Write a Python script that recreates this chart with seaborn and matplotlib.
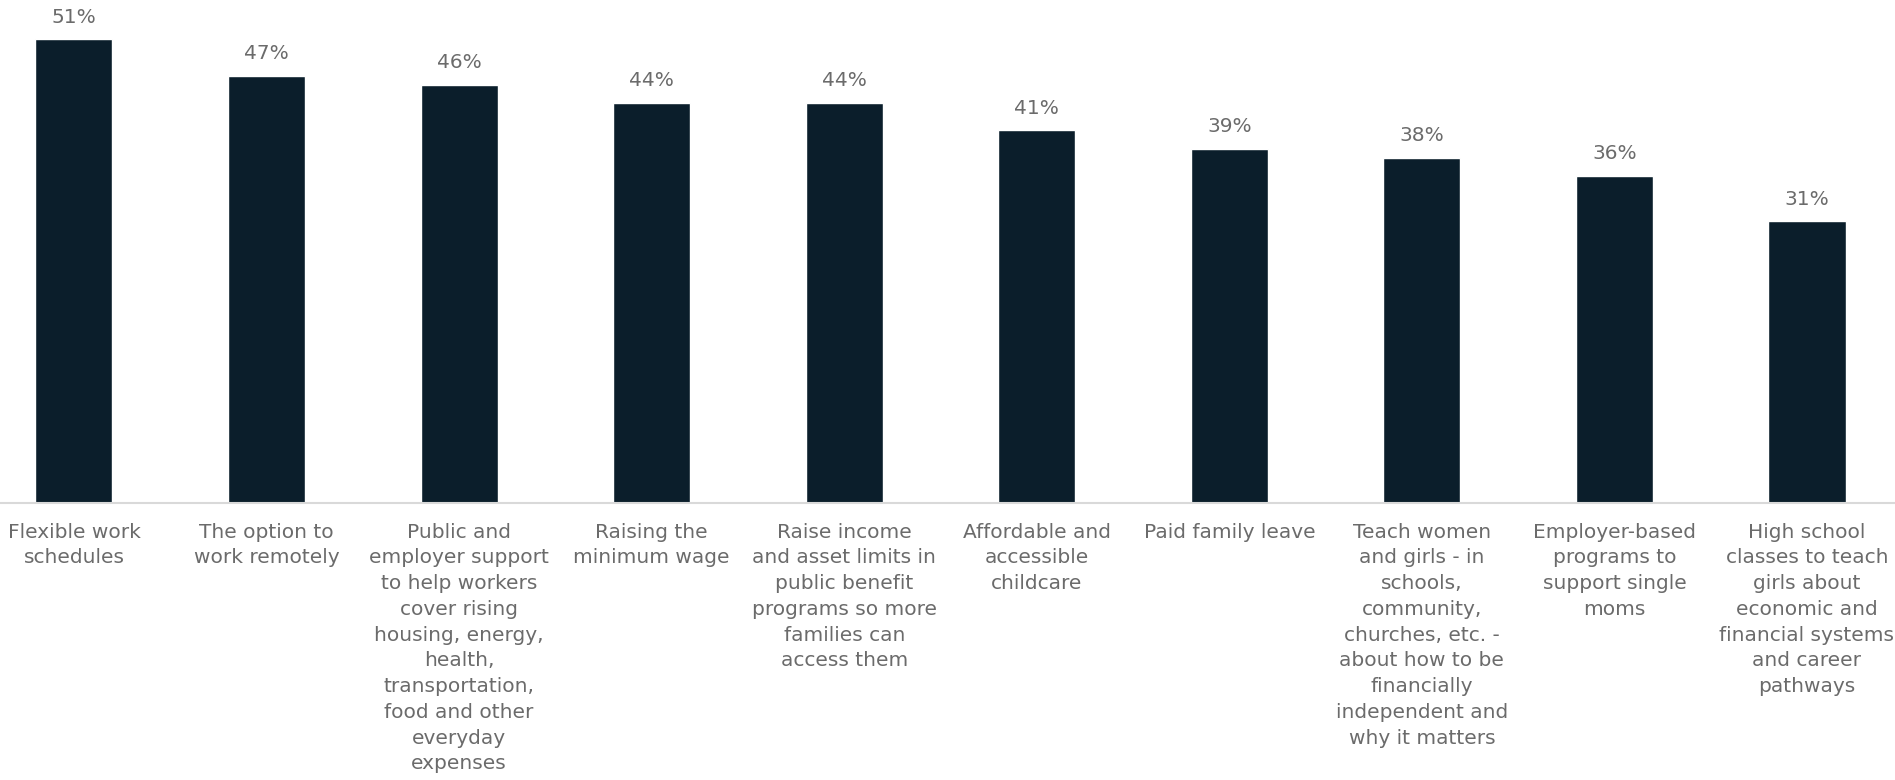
"""
Bar chart: support for policies (share of respondents)
"""
import pandas as pd
import matplotlib.pyplot as plt
import seaborn as sns

# ============================================================================
# DATA
# ============================================================================
categories = [
    'Flexible work\nschedules',
    'The option to\nwork remotely',
    'Public and\nemployer support\nto help workers\ncover rising\nhousing, energy,\nhealth,\ntransportation,\nfood and other\neveryday\nexpenses',
    'Raising the\nminimum wage',
    'Raise income\nand asset limits in\npublic benefit\nprograms so more\nfamilies can\naccess them',
    'Affordable and\naccessible\nchildcare',
    'Paid family leave',
    'Teach women\nand girls - in\nschools,\ncommunity,\nchurches, etc. -\nabout how to be\nfinancially\nindependent and\nwhy it matters',
    'Employer-based\nprograms to\nsupport single\nmoms',
    'High school\nclasses to teach\ngirls about\neconomic and\nfinancial systems\nand career\npathways',
]
values = [51, 47, 46, 44, 44, 41, 39, 38, 36, 31]

df = pd.DataFrame({'category': categories, 'value': values})

# ============================================================================
# PLOT
# ============================================================================
sns.set_theme(style='white')
plt.rcParams['font.family'] = ['DejaVu Sans']

bar_color = '#0B1E2B'
text_color = '#6B6B6B'

fig = plt.figure(figsize=(18.95, 7.8), dpi=100)
ax = fig.add_axes([0, 0.355, 1, 0.641])

sns.barplot(data=df, x='category', y='value', color=bar_color,
            width=0.4, saturation=1, ax=ax)

for i, v in enumerate(values):
    ax.text(i, v + 1.4, f'{v}%', ha='center', va='bottom',
            fontsize=14.5, color=text_color)

ax.set_xlim(-0.384, 9.457)
ax.set_ylim(0, 55)
ax.set_xlabel('')
ax.set_ylabel('')
ax.set_yticks([])
ax.tick_params(axis='x', length=0, pad=14, labelsize=14.5, labelcolor=text_color)
for lbl in ax.get_xticklabels():
    lbl.set_linespacing(1.45)
    lbl.set_verticalalignment('top')

for side in ['top', 'right', 'left']:
    ax.spines[side].set_visible(False)
ax.spines['bottom'].set_color('#D9D9D9')
ax.spines['bottom'].set_linewidth(1.5)

plt.savefig('out.png', dpi=100)
plt.close()
print('saved out.png')
